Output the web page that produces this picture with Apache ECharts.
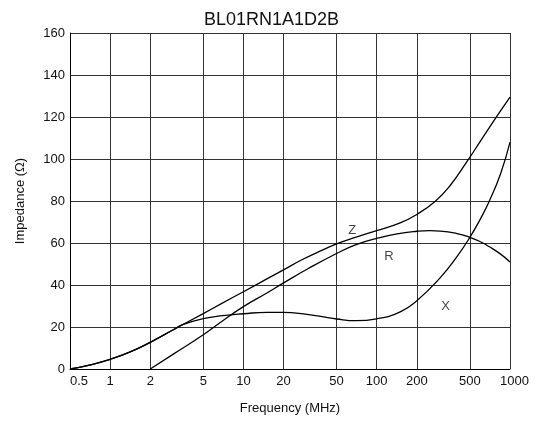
<!DOCTYPE html>
<html><head><meta charset="utf-8">
<script src="https://cdn.jsdelivr.net/npm/echarts@6/dist/echarts.min.js"></script>
<style>html,body{margin:0;padding:0;background:#fff}#c{width:538px;height:422px}</style>
</head><body><div id="c"></div>
<script>
const chartTitle = 'BL01RN1A1D2B';
const xTicks = [0.5, 1, 2, 5, 10, 20, 50, 100, 200, 500, 1000];
const yTicks = [0, 20, 40, 60, 80, 100, 120, 140, 160];

const zFreq = [0.5, 0.7, 1, 1.4, 2, 3, 5, 7, 10, 15, 20, 27, 35, 50, 70, 100, 150, 200, 274, 350, 478, 600, 771, 1000];
const zVals = [0, 1.9, 4.6, 8.0, 12.7, 18.8, 26.4, 31.5, 36.8, 42.9, 47.2, 51.8, 55.2, 59.6, 62.8, 65.9, 69.6, 73.6, 79.8, 86.8, 99, 108.5, 119, 129.5];

const rFreq = [2, 3, 5, 7, 10, 15, 20, 30, 50, 70, 100, 150, 200, 250, 300, 400, 500, 600, 700, 850, 1000];
const rVals = [0, 7.2, 16.3, 23, 29.7, 36.2, 41, 47.5, 55, 59.2, 62.2, 64.6, 65.6, 65.9, 65.7, 64.5, 62.7, 60.6, 58.2, 54.7, 51];

const xFreq = [0.5, 0.7, 1, 1.4, 2, 3, 3.5, 5, 7, 10, 15, 20, 30, 40, 50, 70, 100, 150, 200, 300, 400, 500, 600, 700, 850, 1000];
const xVals = [0, 1.9, 4.6, 8.0, 12.7, 18.8, 21.1, 24, 25.4, 26.3, 27, 27, 26, 24.8, 23.8, 23, 23.9, 27.2, 32.5, 43.5, 53.5, 62.7, 71.5, 80, 93, 108];

const curveLabels = ['Z', 'R', 'X'];
const labelFreq = [65.6, 123.6, 329];
const labelVals = [66.2, 53.5, 29.7];

const pairs = (f, v) => f.map((x, i) => [x, v[i]]);
const lineStyle = { color: '#000', width: 1.3 };
const font = 'Liberation Sans, Arial, sans-serif';

const chart = echarts.init(document.getElementById('c'), null, { renderer: 'canvas' });
chart.setOption({
  animation: false,
  backgroundColor: '#fff',
  title: {
    text: chartTitle, left: 199, top: 6,
    textStyle: { fontFamily: font, fontSize: 18, fontWeight: 'normal', color: '#111' }
  },
  grid: { left: 70, right: 28, top: 33, bottom: 53 },
  xAxis: {
    type: 'log', logBase: 10, min: 0.5, max: 1000,
    name: 'Frequency (MHz)', nameLocation: 'middle', nameGap: 33,
    nameTextStyle: { fontFamily: font, fontSize: 13, color: '#111' },
    axisLine: { show: true, lineStyle: { color: '#000', width: 1 } },
    axisTick: { show: false, customValues: xTicks },
    splitLine: { show: true, lineStyle: { color: '#333', width: 1 } },
    minorSplitLine: { show: false },
    axisLabel: {
      customValues: xTicks, margin: 6, fontFamily: font, fontSize: 13, color: '#111',
      formatter: v => {
        if (v <= 0.5001) return '{a|0.5}';
        if (v >= 999) return '{b|1000}';
        return String(Math.round(v * 10) / 10);
      },
      rich: {
        a: { fontFamily: font, fontSize: 13, color: '#111', padding: [0, 0, 0, 18] },
        b: { fontFamily: font, fontSize: 13, color: '#111', padding: [0, 0, 0, 9] }
      }
    }
  },
  yAxis: {
    type: 'value', min: 0, max: 160, interval: 20,
    name: 'Impedance (Ω)', nameLocation: 'middle', nameGap: 43,
    nameTextStyle: { fontFamily: font, fontSize: 13, color: '#111' },
    axisLine: { show: true, lineStyle: { color: '#000', width: 1 } },
    axisTick: { show: false },
    splitLine: { show: true, lineStyle: { color: '#333', width: 1 } },
    axisLabel: { margin: 5, fontFamily: font, fontSize: 13, color: '#111',
      formatter: v => yTicks.includes(v) ? String(v) : '' }
  },
  series: [
    { name: 'Z', type: 'line', data: pairs(zFreq, zVals), showSymbol: false, smooth: 0.5, lineStyle },
    { name: 'R', type: 'line', data: pairs(rFreq, rVals), showSymbol: false, smooth: 0.5, lineStyle },
    { name: 'X', type: 'line', data: pairs(xFreq, xVals), showSymbol: false, smooth: 0.5, lineStyle },
    { name: 'labels', type: 'scatter', symbolSize: 0, silent: true,
      data: curveLabels.map((t, i) => ({ name: t, value: [labelFreq[i], labelVals[i]] })),
      label: { show: true, position: 'inside', formatter: p => p.name,
        fontFamily: font, fontSize: 13, color: '#111' } }
  ]
});
</script>
</body></html>
